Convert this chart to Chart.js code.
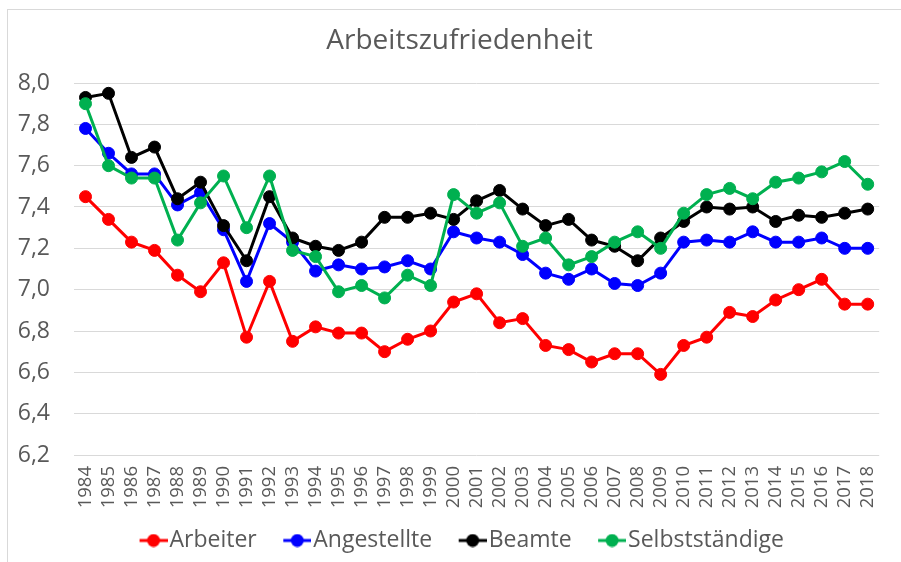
<!DOCTYPE html>
<html>
<head>
<meta charset="utf-8">
<script src="https://cdn.jsdelivr.net/npm/chart.js@4.4.1/dist/chart.umd.min.js"></script>
<style>
  html, body { margin: 0; padding: 0; background: #ffffff; overflow: hidden; }
  #wrap { position: relative; width: 901px; height: 562px; }
  #frame { position: absolute; left: 7px; top: 9px; width: 1000px; height: 1000px; border: 1px solid #d9d9d9; box-sizing: border-box; }
  canvas { position: absolute; left: 0; top: 0; }
</style>
</head>
<body>
<div id="wrap">
  <div id="frame"></div>
  <canvas id="c" width="901" height="562"></canvas>
</div>
<script>
const years = ['1984','1985','1986','1987','1988','1989','1990','1991','1992','1993','1994','1995','1996','1997','1998','1999','2000','2001','2002','2003','2004','2005','2006','2007','2008','2009','2010','2011','2012','2013','2014','2015','2016','2017','2018'];

const arbeiter = [7.45, 7.34, 7.23, 7.19, 7.07, 6.99, 7.13, 6.77, 7.04, 6.75, 6.82, 6.79, 6.79, 6.70, 6.76, 6.80, 6.94, 6.98, 6.84, 6.86, 6.73, 6.71, 6.65, 6.69, 6.69, 6.59, 6.73, 6.77, 6.89, 6.87, 6.95, 7.00, 7.05, 6.93, 6.93];
const angestellte = [7.78, 7.66, 7.56, 7.56, 7.41, 7.47, 7.29, 7.04, 7.32, 7.23, 7.09, 7.12, 7.10, 7.11, 7.14, 7.10, 7.28, 7.25, 7.23, 7.17, 7.08, 7.05, 7.10, 7.03, 7.02, 7.08, 7.23, 7.24, 7.23, 7.28, 7.23, 7.23, 7.25, 7.20, 7.20];
const beamte = [7.93, 7.95, 7.64, 7.69, 7.44, 7.52, 7.31, 7.14, 7.45, 7.25, 7.21, 7.19, 7.23, 7.35, 7.35, 7.37, 7.34, 7.43, 7.48, 7.39, 7.31, 7.34, 7.24, 7.21, 7.14, 7.25, 7.33, 7.40, 7.39, 7.40, 7.33, 7.36, 7.35, 7.37, 7.39];
const selbststaendige = [7.90, 7.60, 7.54, 7.54, 7.24, 7.42, 7.55, 7.30, 7.55, 7.19, 7.16, 6.99, 7.02, 6.96, 7.07, 7.02, 7.46, 7.37, 7.42, 7.21, 7.25, 7.12, 7.16, 7.23, 7.28, 7.20, 7.37, 7.46, 7.49, 7.44, 7.52, 7.54, 7.57, 7.62, 7.51];

const seriesNames = ['Arbeiter', 'Angestellte', 'Beamte', 'Selbstständige'];
const seriesColors = ['#ff0000', '#0000ff', '#000000', '#00b050'];
const yTickValues = [6.2, 6.4, 6.6, 6.8, 7.0, 7.2, 7.4, 7.6, 7.8, 8.0];
const chartTitle = 'Arbeitszufriedenheit';

const FONT = "'Open Sans', 'DejaVu Sans', sans-serif";
const TEXT = '#595959';

// legend marker: short line with a dot, drawn on the right part of a wider transparent image
function legendMarker(color) {
  const cv = document.createElement('canvas');
  cv.width = 54; cv.height = 14;
  const g = cv.getContext('2d');
  g.strokeStyle = color; g.lineWidth = 3;
  g.beginPath(); g.moveTo(26, 7); g.lineTo(54, 7); g.stroke();
  g.fillStyle = color;
  g.beginPath(); g.arc(40, 7, 6.5, 0, Math.PI * 2); g.fill();
  return cv;
}

const allData = [arbeiter, angestellte, beamte, selbststaendige];
const drawOrder = [3, 2, 1, 0];
const datasets = allData.map((d, i) => ({
  label: seriesNames[i],
  data: d,
  borderColor: seriesColors[i],
  backgroundColor: seriesColors[i],
  borderWidth: 3,
  pointRadius: 6,
  pointBorderWidth: 1,
  pointBorderColor: seriesColors[i],
  pointBackgroundColor: seriesColors[i],
  pointStyle: 'circle',
  tension: 0,
  order: drawOrder[i]
}));
const markers = seriesColors.map(legendMarker);

const shiftPlugin = {
  id: 'shiftBlocks',
  afterLayout(chart) {
    if (chart.titleBlock) { chart.titleBlock.left += 6; chart.titleBlock.right += 6; }
  }
};

new Chart(document.getElementById('c'), {
  type: 'line',
  data: { labels: years, datasets: datasets },
  plugins: [shiftPlugin],
  options: {
    responsive: false,
    animation: false,
    devicePixelRatio: 1,
    layout: { padding: { left: 8, right: 2, top: 10, bottom: 0 } },
    plugins: {
      title: {
        display: true,
        text: chartTitle,
        color: TEXT,
        font: { family: FONT, size: 28, weight: 'normal', lineHeight: 1.2 },
        padding: { top: 14, bottom: 25.4 }
      },
      legend: {
        position: 'bottom',
        labels: {
          color: TEXT,
          font: { family: FONT, size: 23 },
          usePointStyle: true,
          pointStyleWidth: 35,
          padding: 10,
          generateLabels: function(chart) {
            return chart.data.datasets.map((ds, i) => ({
              text: ds.label,
              fillStyle: ds.borderColor,
              strokeStyle: ds.borderColor,
              lineWidth: 0,
              pointStyle: markers[i],
              hidden: false,
              datasetIndex: i,
              fontColor: TEXT
            }));
          }
        }
      },
      tooltip: { enabled: false }
    },
    scales: {
      x: {
        type: 'category',
        offset: true,
        grid: { display: false, drawTicks: false },
        border: { display: false },
        ticks: {
          color: TEXT,
          font: { family: FONT, size: 18.5 },
          minRotation: 90,
          maxRotation: 90,
          autoSkip: false,
          padding: 11
        },
        afterFit: function(scale) { scale.height = 64; }
      },
      y: {
        min: 6.2,
        max: 8.0,
        afterBuildTicks: function(scale) { scale.ticks = yTickValues.map(v => ({ value: v })); },
        grid: { color: '#d9d9d9', lineWidth: 1, drawTicks: false },
        border: { display: false },
        ticks: {
          color: TEXT,
          font: { family: FONT, size: 23 },
          padding: 24,
          callback: function(v) { return Number(v).toFixed(1).replace('.', ','); }
        },
        afterFit: function(scale) { scale.width = 66; }
      }
    }
  }
});
</script>
</body>
</html>
